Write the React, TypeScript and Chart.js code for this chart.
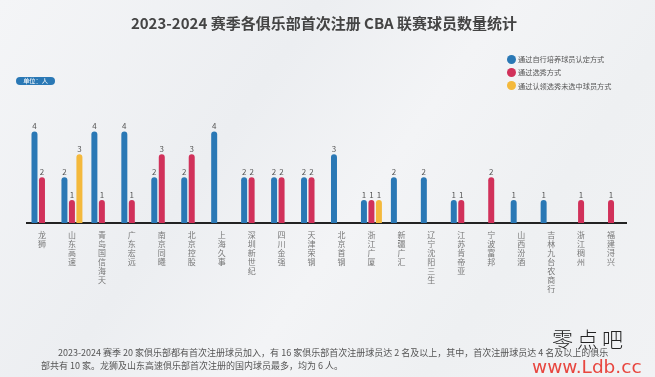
import React, { useEffect, useRef } from 'react';
import { Chart, registerables } from 'chart.js';

Chart.register(...registerables);

const categories = ['龙狮', '山东高速', '青岛国信海天', '广东宏远', '南京同曦', '北京控股', '上海久事', '深圳新世纪', '四川金强', '天津荣钢', '北京首钢', '浙江广厦', '新疆广汇', '辽宁沈阳三生', '江苏肯帝亚', '宁波富邦', '山西汾酒', '吉林九台农商行', '浙江稠州', '福建浔兴'];
const selfTrained = [4, 2, 4, 4, 2, 2, 4, 2, 2, 2, 3, 1, 2, 2, 1, 0, 1, 1, 0, 0];
const draft = [2, 1, 1, 1, 3, 3, 0, 2, 2, 2, 0, 1, 0, 0, 1, 2, 0, 0, 1, 1];
const unselected = [0, 3, 0, 0, 0, 0, 0, 0, 0, 0, 0, 1, 0, 0, 0, 0, 0, 0, 0, 0];
const seriesNames = ['通过自行培养球员认定方式', '通过选秀方式', '通过认领选秀未选中球员方式'];
const seriesColors = ['#2a78b5', '#d1315a', '#f4b93c'];

const titleText = '2023-2024 赛季各俱乐部首次注册 CBA 联赛球员数量统计';
const unitText = '单位：人';
const footerLine1 = '2023-2024 赛季 20 家俱乐部都有首次注册球员加入，有 16 家俱乐部首次注册球员达 2 名及以上，其中，首次注册球员达 4 名及以上的俱乐';
const footerLine2 = '部共有 10 家。龙狮及山东高速俱乐部首次注册的国内球员最多，均为 6 人。';

const FONT = '"Noto Sans CJK SC", "Noto Sans", sans-serif';

const toBars = (arr: number[]) => arr.map((v) => (v === 0 ? null : v));

const valueLabels = {
  id: 'valueLabels',
  afterDatasetsDraw(chart: any) {
    const ctx = chart.ctx;
    ctx.save();
    ctx.font = `8px ${FONT}`;
    ctx.fillStyle = '#555';
    ctx.textAlign = 'center';
    ctx.textBaseline = 'alphabetic';
    chart.data.datasets.forEach((ds: any, di: number) => {
      const meta = chart.getDatasetMeta(di);
      meta.data.forEach((el: any, i: number) => {
        const v = ds.data[i];
        if (v == null) return;
        ctx.fillText(String(v), el.x, el.y - 2.5);
      });
    });
    ctx.restore();
  },
};

export default function App() {
  const canvasRef = useRef<HTMLCanvasElement | null>(null);

  useEffect(() => {
    document.body.style.margin = '0';
    const canvas = canvasRef.current;
    if (!canvas) return;
    const series = [selfTrained, draft, unselected];
    const chart = new Chart(canvas, {
      type: 'bar',
      data: {
        labels: categories,
        datasets: series.map((s, i) => ({
          label: seriesNames[i],
          data: toBars(s),
          backgroundColor: seriesColors[i],
          borderRadius: 3,
          borderSkipped: 'start',
          categoryPercentage: 0.75,
          barPercentage: 0.8,
        })),
      },
      options: {
        responsive: false,
        animation: false,
        devicePixelRatio: 1,
        layout: { padding: { left: 27, right: 29, top: 120, bottom: 74 } },
        plugins: {
          legend: { display: false },
          title: { display: false },
          tooltip: { enabled: false },
        },
        scales: {
          x: {
            grid: { display: false, drawTicks: false },
            border: { display: true, color: '#222', width: 2 },
            ticks: {
              autoSkip: false,
              maxRotation: 0,
              minRotation: 0,
              padding: 7,
              color: '#777',
              font: { family: FONT, size: 8, lineHeight: 1.125 },
              callback: (_v: any, i: number) => categories[i].split(''),
            },
            afterFit: (scale: any) => {
              scale.height = 80;
            },
          },
          y: {
            display: false,
            min: 0,
            max: 4.5,
          },
        },
      },
      plugins: [valueLabels],
    } as any);
    return () => chart.destroy();
  }, []);

  const legendRows = seriesNames.map((name, i) => {
    const cy = 59 + i * 13.4;
    return (
      <React.Fragment key={name}>
        <div
          style={{
            position: 'absolute',
            left: 506.5,
            top: cy - 4.5,
            width: 9,
            height: 9,
            borderRadius: '50%',
            background: seriesColors[i],
          }}
        />
        <div
          style={{
            position: 'absolute',
            left: 518,
            top: cy - 6,
            height: 12,
            lineHeight: '12px',
            fontSize: 7.2,
            color: '#555',
            fontFamily: FONT,
            whiteSpace: 'nowrap',
          }}
        >
          {name}
        </div>
      </React.Fragment>
    );
  });

  return (
    <div
      style={{
        position: 'absolute',
        left: 0,
        top: 0,
        width: 655,
        height: 377,
        overflow: 'hidden',
        background: 'linear-gradient(125deg, #f4f5f7 0%, #eceef1 35%, #f3f4f6 55%, #eef0f2 75%, #f1f2f4 100%)',
        fontFamily: FONT,
      }}
    >
      <canvas ref={canvasRef} width={655} height={377} style={{ position: 'absolute', left: 0, top: 0, width: 655, height: 377 }} />
      <div
        style={{
          position: 'absolute',
          left: 0,
          top: 13,
          width: 648,
          height: 20,
          lineHeight: '20px',
          textAlign: 'center',
          fontSize: 15,
          fontWeight: 700,
          color: '#444',
          whiteSpace: 'nowrap',
        }}
      >
        {titleText}
      </div>
      <div
        style={{
          position: 'absolute',
          left: 16,
          top: 77,
          width: 39,
          height: 8,
          borderRadius: 4,
          background: '#2a78b5',
          color: '#fff',
          fontSize: 6.2,
          lineHeight: '8px',
          textAlign: 'center',
          whiteSpace: 'nowrap',
        }}
      >
        {unitText}
      </div>
      {legendRows}
      <div
        style={{
          position: 'absolute',
          left: 58,
          top: 346,
          height: 13,
          lineHeight: '13px',
          fontSize: 9,
          color: '#555',
          whiteSpace: 'nowrap',
        }}
      >
        {footerLine1}
      </div>
      <div
        style={{
          position: 'absolute',
          left: 41,
          top: 358.5,
          height: 13,
          lineHeight: '13px',
          fontSize: 9,
          color: '#555',
          whiteSpace: 'nowrap',
        }}
      >
        {footerLine2}
      </div>
      <div
        style={{
          position: 'absolute',
          left: 552,
          top: 326,
          height: 24,
          lineHeight: '24px',
          fontSize: 21,
          fontWeight: 300,
          letterSpacing: 4,
          color: '#222',
          whiteSpace: 'nowrap',
        }}
      >
        零点吧
      </div>
      <div
        style={{
          position: 'absolute',
          left: 532,
          top: 356,
          height: 22,
          lineHeight: '22px',
          fontSize: 18.5,
          fontFamily: '"DejaVu Sans", sans-serif',
          color: '#e8463f',
          whiteSpace: 'nowrap',
        }}
      >
        www.Ldb.cc
      </div>
    </div>
  );
}
